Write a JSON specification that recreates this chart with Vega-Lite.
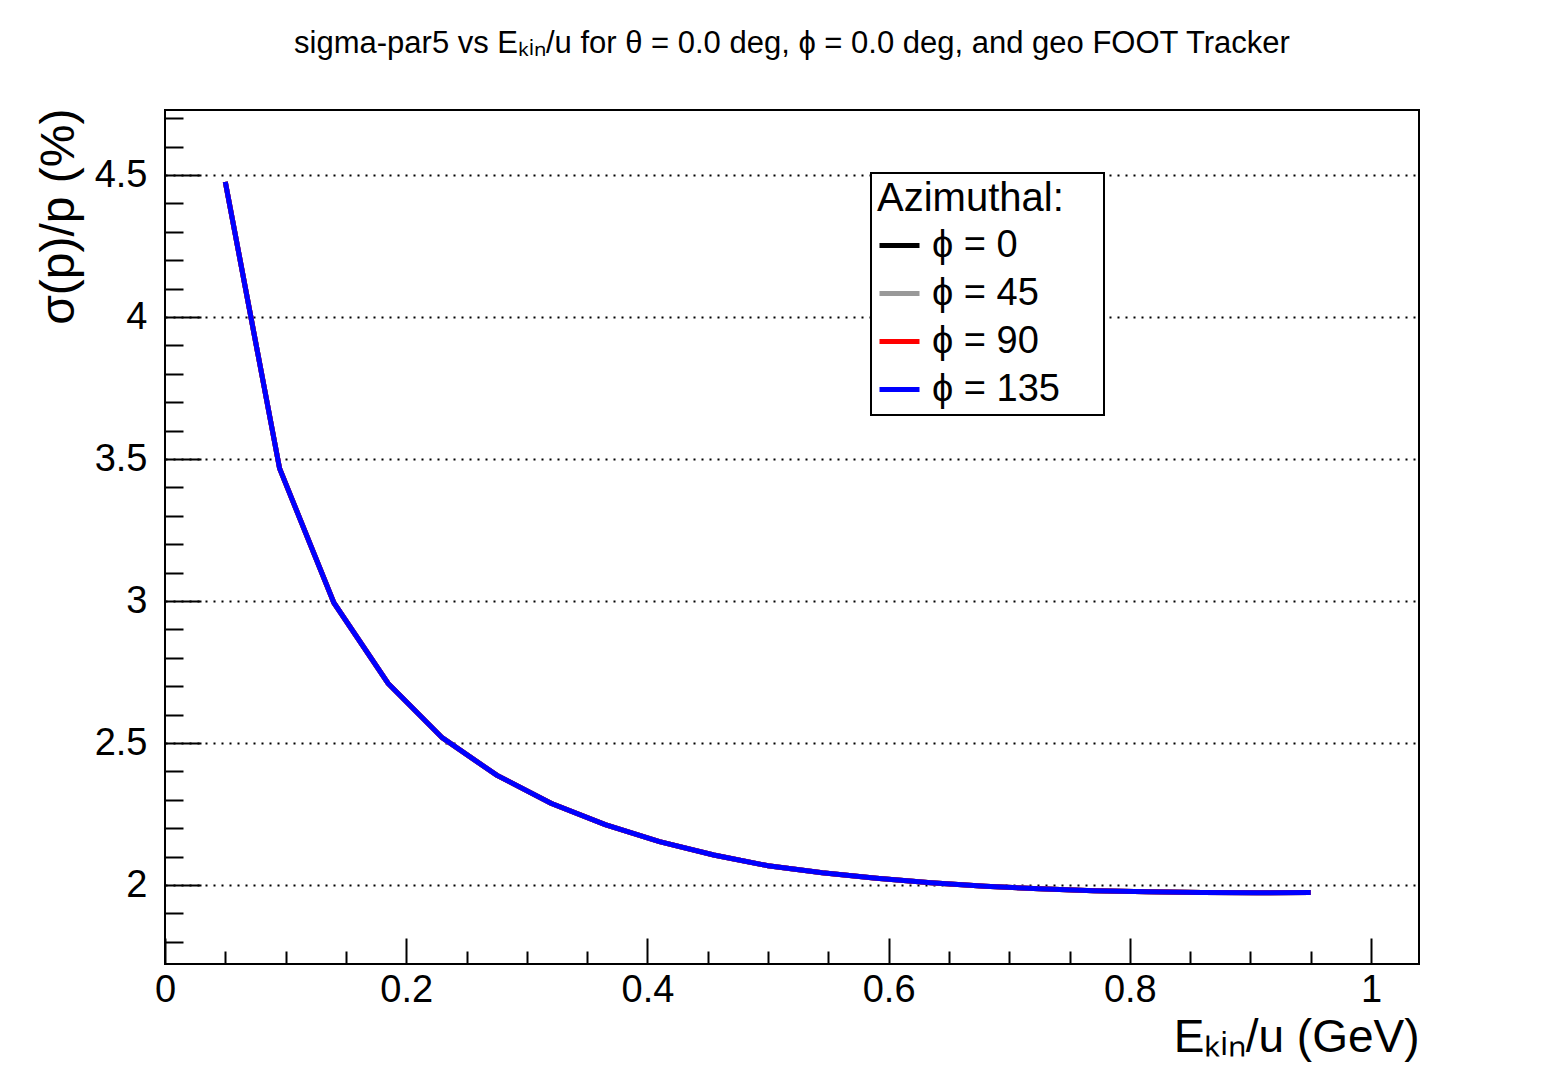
{
  "$schema": "https://vega.github.io/schema/vega-lite/v6.json",
  "width": 1254,
  "height": 854,
  "autosize": {"type": "none"},
  "padding": {"left": 165, "top": 110, "right": 140, "bottom": 103},
  "background": "white",
  "title": {
    "text": "sigma-par5 vs Eₖᵢₙ/u for θ = 0.0 deg, ϕ = 0.0 deg, and geo FOOT Tracker",
    "anchor": "middle",
    "frame": "group",
    "font": "Liberation Sans",
    "fontSize": 31,
    "fontWeight": "normal",
    "color": "black",
    "offset": 39
  },
  "config": {
    "view": {"stroke": "black", "strokeWidth": 2},
    "font": "Liberation Sans",
    "legend": {"strokeWidth": 2}
  },
  "datasets": {
    "curves": [
      {"E": 0.05, "sigma": 4.476, "phi": "ϕ = 0"}, {"E": 0.095, "sigma": 3.467, "phi": "ϕ = 0"}, {"E": 0.14, "sigma": 2.994, "phi": "ϕ = 0"}, {"E": 0.185, "sigma": 2.71, "phi": "ϕ = 0"}, {"E": 0.23, "sigma": 2.518, "phi": "ϕ = 0"}, {"E": 0.275, "sigma": 2.387, "phi": "ϕ = 0"}, {"E": 0.32, "sigma": 2.288, "phi": "ϕ = 0"}, {"E": 0.365, "sigma": 2.213, "phi": "ϕ = 0"}, {"E": 0.41, "sigma": 2.153, "phi": "ϕ = 0"}, {"E": 0.455, "sigma": 2.106, "phi": "ϕ = 0"}, {"E": 0.5, "sigma": 2.068, "phi": "ϕ = 0"}, {"E": 0.545, "sigma": 2.043, "phi": "ϕ = 0"}, {"E": 0.59, "sigma": 2.024, "phi": "ϕ = 0"}, {"E": 0.635, "sigma": 2.008, "phi": "ϕ = 0"}, {"E": 0.68, "sigma": 1.996, "phi": "ϕ = 0"}, {"E": 0.725, "sigma": 1.987, "phi": "ϕ = 0"}, {"E": 0.77, "sigma": 1.98, "phi": "ϕ = 0"}, {"E": 0.815, "sigma": 1.976, "phi": "ϕ = 0"}, {"E": 0.86, "sigma": 1.974, "phi": "ϕ = 0"}, {"E": 0.905, "sigma": 1.973, "phi": "ϕ = 0"}, {"E": 0.95, "sigma": 1.974, "phi": "ϕ = 0"},
      {"E": 0.05, "sigma": 4.476, "phi": "ϕ = 45"}, {"E": 0.095, "sigma": 3.467, "phi": "ϕ = 45"}, {"E": 0.14, "sigma": 2.994, "phi": "ϕ = 45"}, {"E": 0.185, "sigma": 2.71, "phi": "ϕ = 45"}, {"E": 0.23, "sigma": 2.518, "phi": "ϕ = 45"}, {"E": 0.275, "sigma": 2.387, "phi": "ϕ = 45"}, {"E": 0.32, "sigma": 2.288, "phi": "ϕ = 45"}, {"E": 0.365, "sigma": 2.213, "phi": "ϕ = 45"}, {"E": 0.41, "sigma": 2.153, "phi": "ϕ = 45"}, {"E": 0.455, "sigma": 2.106, "phi": "ϕ = 45"}, {"E": 0.5, "sigma": 2.068, "phi": "ϕ = 45"}, {"E": 0.545, "sigma": 2.043, "phi": "ϕ = 45"}, {"E": 0.59, "sigma": 2.024, "phi": "ϕ = 45"}, {"E": 0.635, "sigma": 2.008, "phi": "ϕ = 45"}, {"E": 0.68, "sigma": 1.996, "phi": "ϕ = 45"}, {"E": 0.725, "sigma": 1.987, "phi": "ϕ = 45"}, {"E": 0.77, "sigma": 1.98, "phi": "ϕ = 45"}, {"E": 0.815, "sigma": 1.976, "phi": "ϕ = 45"}, {"E": 0.86, "sigma": 1.974, "phi": "ϕ = 45"}, {"E": 0.905, "sigma": 1.973, "phi": "ϕ = 45"}, {"E": 0.95, "sigma": 1.974, "phi": "ϕ = 45"},
      {"E": 0.05, "sigma": 4.476, "phi": "ϕ = 90"}, {"E": 0.095, "sigma": 3.467, "phi": "ϕ = 90"}, {"E": 0.14, "sigma": 2.994, "phi": "ϕ = 90"}, {"E": 0.185, "sigma": 2.71, "phi": "ϕ = 90"}, {"E": 0.23, "sigma": 2.518, "phi": "ϕ = 90"}, {"E": 0.275, "sigma": 2.387, "phi": "ϕ = 90"}, {"E": 0.32, "sigma": 2.288, "phi": "ϕ = 90"}, {"E": 0.365, "sigma": 2.213, "phi": "ϕ = 90"}, {"E": 0.41, "sigma": 2.153, "phi": "ϕ = 90"}, {"E": 0.455, "sigma": 2.106, "phi": "ϕ = 90"}, {"E": 0.5, "sigma": 2.068, "phi": "ϕ = 90"}, {"E": 0.545, "sigma": 2.043, "phi": "ϕ = 90"}, {"E": 0.59, "sigma": 2.024, "phi": "ϕ = 90"}, {"E": 0.635, "sigma": 2.008, "phi": "ϕ = 90"}, {"E": 0.68, "sigma": 1.996, "phi": "ϕ = 90"}, {"E": 0.725, "sigma": 1.987, "phi": "ϕ = 90"}, {"E": 0.77, "sigma": 1.98, "phi": "ϕ = 90"}, {"E": 0.815, "sigma": 1.976, "phi": "ϕ = 90"}, {"E": 0.86, "sigma": 1.974, "phi": "ϕ = 90"}, {"E": 0.905, "sigma": 1.973, "phi": "ϕ = 90"}, {"E": 0.95, "sigma": 1.974, "phi": "ϕ = 90"},
      {"E": 0.05, "sigma": 4.476, "phi": "ϕ = 135"}, {"E": 0.095, "sigma": 3.467, "phi": "ϕ = 135"}, {"E": 0.14, "sigma": 2.994, "phi": "ϕ = 135"}, {"E": 0.185, "sigma": 2.71, "phi": "ϕ = 135"}, {"E": 0.23, "sigma": 2.518, "phi": "ϕ = 135"}, {"E": 0.275, "sigma": 2.387, "phi": "ϕ = 135"}, {"E": 0.32, "sigma": 2.288, "phi": "ϕ = 135"}, {"E": 0.365, "sigma": 2.213, "phi": "ϕ = 135"}, {"E": 0.41, "sigma": 2.153, "phi": "ϕ = 135"}, {"E": 0.455, "sigma": 2.106, "phi": "ϕ = 135"}, {"E": 0.5, "sigma": 2.068, "phi": "ϕ = 135"}, {"E": 0.545, "sigma": 2.043, "phi": "ϕ = 135"}, {"E": 0.59, "sigma": 2.024, "phi": "ϕ = 135"}, {"E": 0.635, "sigma": 2.008, "phi": "ϕ = 135"}, {"E": 0.68, "sigma": 1.996, "phi": "ϕ = 135"}, {"E": 0.725, "sigma": 1.987, "phi": "ϕ = 135"}, {"E": 0.77, "sigma": 1.98, "phi": "ϕ = 135"}, {"E": 0.815, "sigma": 1.976, "phi": "ϕ = 135"}, {"E": 0.86, "sigma": 1.974, "phi": "ϕ = 135"}, {"E": 0.905, "sigma": 1.973, "phi": "ϕ = 135"}, {"E": 0.95, "sigma": 1.974, "phi": "ϕ = 135"}
    ]
  },
  "data": {"name": "curves"},
  "encoding": {
    "x": {
      "field": "E",
      "type": "quantitative",
      "scale": {"domain": [0, 1.0398], "nice": false, "zero": false},
      "axis": {
        "orient": "bottom",
        "values": [0, 0.05, 0.1, 0.15, 0.2, 0.25, 0.3, 0.35, 0.4, 0.45, 0.5, 0.55, 0.6, 0.65, 0.7, 0.75, 0.8, 0.85, 0.9, 0.95, 1.0],
        "labelExpr": "abs(datum.value*5 - round(datum.value*5)) < 0.001 ? '' + datum.value : ''",
        "labelFont": "Liberation Sans",
        "labelFontSize": 38,
        "labelColor": "black",
        "labelPadding": 33,
        "labelBaseline": "top",
        "labelFlush": false,
        "labelOverlap": false,
        "tickColor": "black",
        "tickWidth": 2,
        "tickSize": {"condition": {"test": "abs(datum.value*5 - round(datum.value*5)) < 0.001", "value": -26}, "value": -13},
        "domain": false,
        "grid": false,
        "title": "Eₖᵢₙ/u (GeV)",
        "titleFont": "Liberation Sans",
        "titleFontSize": 46,
        "titleFontWeight": "normal",
        "titleColor": "black",
        "titleAnchor": "end",
        "titleAlign": "right",
        "titleBaseline": "alphabetic",
        "titleX": 1254,
        "titleY": 87
      }
    },
    "y": {
      "field": "sigma",
      "type": "quantitative",
      "scale": {"domain": [1.722, 4.729], "nice": false, "zero": false},
      "axis": {
        "orient": "left",
        "values": [1.8, 1.9, 2.0, 2.1, 2.2, 2.3, 2.4, 2.5, 2.6, 2.7, 2.8, 2.9, 3.0, 3.1, 3.2, 3.3, 3.4, 3.5, 3.6, 3.7, 3.8, 3.9, 4.0, 4.1, 4.2, 4.3, 4.4, 4.5, 4.6, 4.7],
        "labelExpr": "abs(datum.value*2 - round(datum.value*2)) < 0.001 ? '' + datum.value : ''",
        "labelFont": "Liberation Sans",
        "labelFontSize": 38,
        "labelColor": "black",
        "labelPadding": 54,
        "labelFlush": false,
        "labelOverlap": false,
        "tickColor": "black",
        "tickWidth": 2,
        "tickSize": {"condition": {"test": "abs(datum.value*2 - round(datum.value*2)) < 0.001", "value": -36}, "value": -18},
        "domain": false,
        "grid": true,
        "gridColor": "black",
        "gridWidth": 2,
        "gridDash": [2, 6],
        "gridOpacity": {"condition": {"test": "abs(datum.value*2 - round(datum.value*2)) < 0.001", "value": 1}, "value": 0},
        "title": "σ(p)/p (%)",
        "titleFont": "Liberation Sans",
        "titleFontSize": 48,
        "titleFontWeight": "normal",
        "titleColor": "black",
        "titleAngle": 270,
        "titleAnchor": "end",
        "titleAlign": "right",
        "titleBaseline": "alphabetic",
        "titleX": -92,
        "titleY": -2
      }
    },
    "color": {
      "field": "phi",
      "type": "nominal",
      "scale": {"domain": ["ϕ = 0", "ϕ = 45", "ϕ = 90", "ϕ = 135"], "range": ["#000000", "#999999", "#ff0000", "#0000ff"]},
      "legend": {
        "orient": "none",
        "legendX": 706,
        "legendY": 63,
        "title": "Azimuthal:\u00a0\u00a0\u00a0\u200b",
        "titleLimit": 500,
        "titleFont": "Liberation Sans",
        "titleFontSize": 40,
        "titleFontWeight": "normal",
        "titleColor": "black",
        "titlePadding": 4,
        "labelFont": "Liberation Sans",
        "labelFontSize": 38,
        "labelColor": "black",
        "labelOffset": 10,
        "labelLimit": 500,
        "symbolType": "stroke",
        "symbolStrokeWidth": 5,
        "symbolSize": 1600,
        "symbolOpacity": 1,
        "rowPadding": 6,
        "padding": 6,
        "strokeColor": "black",
        "fillColor": "white"
      }
    }
  },
  "layer": [
    {"transform": [{"filter": "datum.phi === 'ϕ = 0'"}], "mark": {"type": "line", "strokeWidth": 5}},
    {"transform": [{"filter": "datum.phi === 'ϕ = 45'"}], "mark": {"type": "line", "strokeWidth": 5}},
    {"transform": [{"filter": "datum.phi === 'ϕ = 90'"}], "mark": {"type": "line", "strokeWidth": 5}},
    {"transform": [{"filter": "datum.phi === 'ϕ = 135'"}], "mark": {"type": "line", "strokeWidth": 5}}
  ]
}
